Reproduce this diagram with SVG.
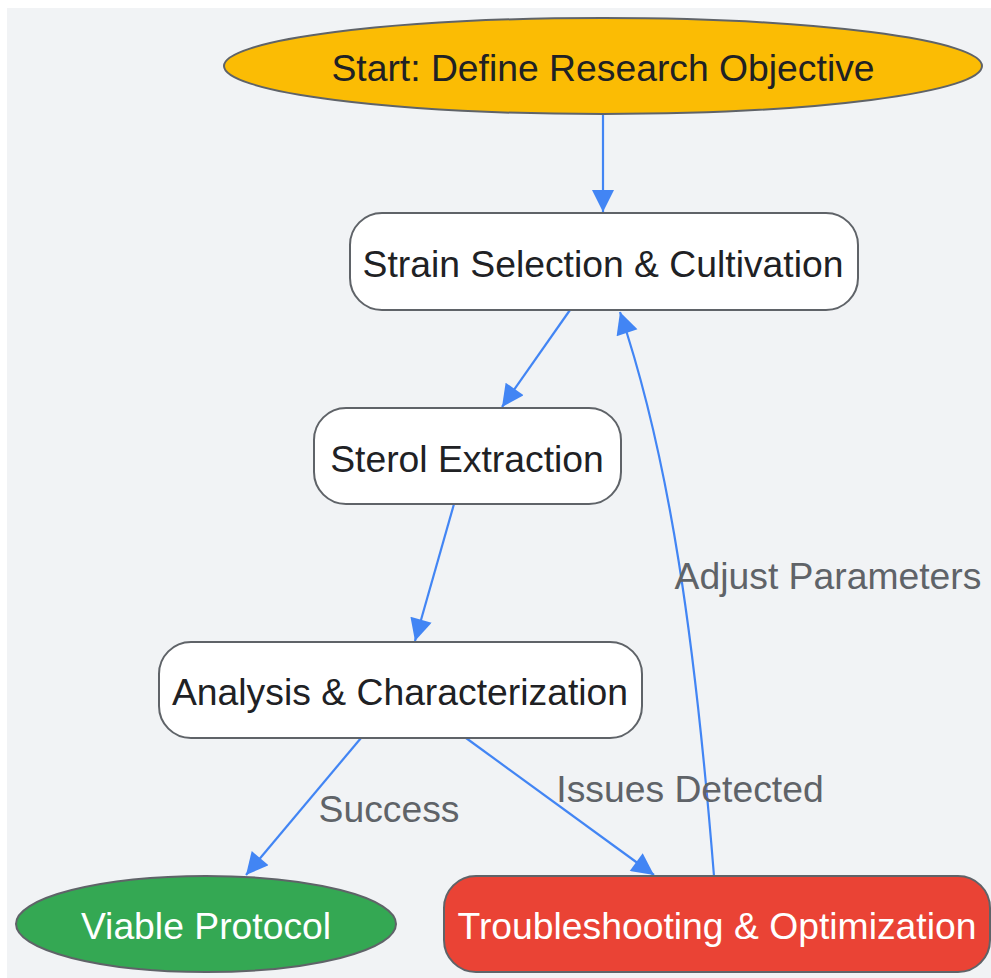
<svg xmlns="http://www.w3.org/2000/svg" width="991" height="978" viewBox="0 0 991 978">
<style>
.n{stroke:#5f6368;stroke-width:2}
.t{font-family:"Liberation Sans",Arial,sans-serif;font-size:37.3px;text-anchor:middle;dominant-baseline:central;fill:#202124}
.w{fill:#ffffff}
.e{fill:none;stroke:#4285f4;stroke-width:2.2}
.l{font-family:"Liberation Sans",Arial,sans-serif;font-size:37.3px;fill:#5f6368;text-anchor:middle;dominant-baseline:central}
</style>
<defs>
<marker id="a" viewBox="0 0 10 10" refX="10" refY="5" markerUnits="userSpaceOnUse" markerWidth="28" markerHeight="22" orient="auto">
<path d="M0,0 L10,5 L0,10 z" fill="#4285f4"/>
</marker>
</defs>
<rect x="0" y="0" width="991" height="978" fill="#ffffff"/>
<rect x="7" y="8" width="984" height="970" fill="#f1f3f5"/>
<g id="connectors">
<path class="e" d="M603,114 L603,212" marker-end="url(#a)"/>
<path class="e" d="M570,310 L502,407" marker-end="url(#a)"/>
<path class="e" d="M454,504 L415,641" marker-end="url(#a)"/>
<path class="e" d="M361,738 L246,875" marker-end="url(#a)"/>
<path class="e" d="M466,738 L654,875" marker-end="url(#a)"/>
<path class="e" d="M714,876 C695,640 670,460 620,312" marker-end="url(#a)"/>
<text class="l" x="828" y="576">Adjust Parameters</text>
<text class="l" x="389" y="809">Success</text>
<text class="l" x="690" y="789">Issues Detected</text>
</g>
<g id="start">
<ellipse class="n" cx="603" cy="66" rx="379" ry="48" fill="#fbbc04"/>
<text class="t" x="603" y="68">Start: Define Research Objective</text>
</g>
<g id="strain">
<rect class="n" x="350" y="213" width="508" height="97" rx="32" fill="#ffffff"/>
<text class="t" x="603" y="264">Strain Selection &amp; Cultivation</text>
</g>
<g id="sterol">
<rect class="n" x="314" y="408" width="307" height="96" rx="32" fill="#ffffff"/>
<text class="t" x="467" y="459">Sterol Extraction</text>
</g>
<g id="analysis">
<rect class="n" x="159" y="642" width="483" height="96" rx="32" fill="#ffffff"/>
<text class="t" x="400" y="692">Analysis &amp; Characterization</text>
</g>
<g id="viable">
<ellipse class="n" cx="206" cy="924" rx="190" ry="48" fill="#34a853"/>
<text class="t w" x="206" y="926">Viable Protocol</text>
</g>
<g id="trouble">
<rect class="n" x="444" y="876" width="546" height="96" rx="32" fill="#ea4335"/>
<text class="t w" x="717" y="926">Troubleshooting &amp; Optimization</text>
</g>
</svg>
